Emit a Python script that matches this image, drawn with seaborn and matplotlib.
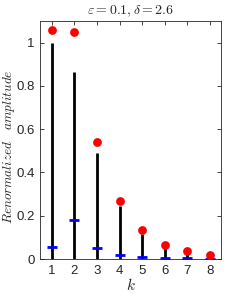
import matplotlib
matplotlib.use("Agg")
import matplotlib.pyplot as plt
import seaborn as sns
import pandas as pd

k = [1, 2, 3, 4, 5, 6, 7, 8]
red_amp = [1.057, 1.049, 0.539, 0.270, 0.134, 0.066, 0.037, 0.019]
black_amp = [1.0, 0.864, 0.490, 0.247, 0.115, 0.050, 0.022, 0.010]
blue_amp = [0.057, 0.182, 0.050, 0.020, 0.009, 0.006, 0.005, 0.002]

df = pd.DataFrame({"k": k, "red": red_amp, "black": black_amp, "blue": blue_amp})

sns.set_style("ticks")
plt.rcParams["font.family"] = ["Liberation Sans", "DejaVu Sans"]
plt.rcParams["mathtext.fontset"] = "cm"

fig, ax = plt.subplots(figsize=(2.45, 2.94), dpi=100)

ax.vlines(df["k"], 0, df["black"], color="black", linewidth=2.0, zorder=2)
sns.scatterplot(data=df, x="k", y="blue", marker="_", s=55, color="blue",
                linewidth=2.0, ax=ax, zorder=3)
sns.scatterplot(data=df, x="k", y="red", marker="o", s=26, color="red",
                edgecolor="red", linewidth=1.2, ax=ax, zorder=4)

ax.set_xlim(0.5, 8.5)
ax.set_ylim(0, 1.1)
ax.set_xticks(k)
ax.set_yticks([0, 0.2, 0.4, 0.6, 0.8, 1])
ax.set_yticklabels(["0", "0.2", "0.4", "0.6", "0.8", "1"])
ax.tick_params(direction="in", top=True, right=True, length=3, width=0.6,
               labelsize=9.5, colors="#262626", pad=4)
for sp in ax.spines.values():
    sp.set_linewidth(0.6)
    sp.set_color("#262626")

ax.set_title(r"$\varepsilon = 0.1, \delta = 2.6$", fontsize=10, pad=5)
ax.set_xlabel(r"$k$", fontsize=11, labelpad=0)
ax.set_ylabel(r"$Renormalized \quad amplitude$", fontsize=9.5)
ax.yaxis.set_label_coords(-0.128, 0.47)

fig.subplots_adjust(left=0.165, right=0.903, top=0.929, bottom=0.119)
fig.savefig("out.png", dpi=100)
